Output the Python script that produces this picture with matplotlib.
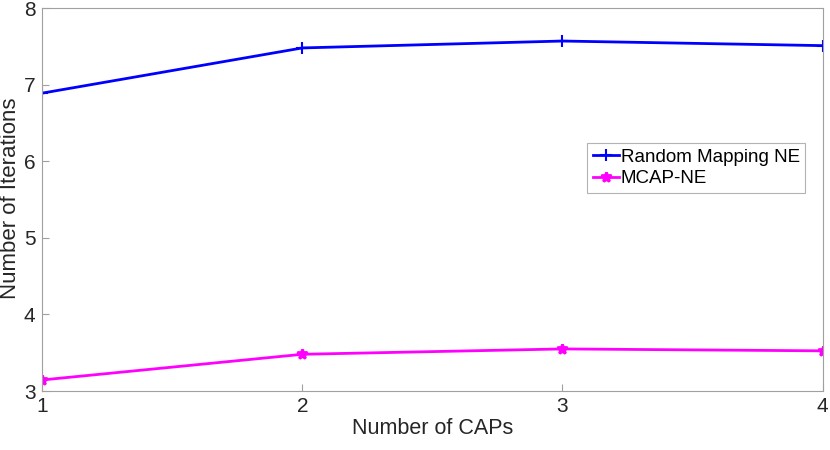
import matplotlib
matplotlib.use('Agg')
from matplotlib import pyplot as plt

# Dados
caps = [1, 2, 3, 4]
random_mapping = [6.89, 7.48, 7.57, 7.51]
mcap_ne = [3.145, 3.48, 3.55, 3.525]

plt.rcParams['font.family'] = ['Liberation Sans', 'DejaVu Sans']

fig = plt.figure(figsize=(8.3, 4.5), dpi=100)
ax = fig.add_axes([0.051, 0.131, 0.940, 0.851])

ax.plot(caps, random_mapping, color='#0000ff', lw=2, marker='+', ms=8, mew=1.5, label='Random Mapping NE')
ax.plot(caps, mcap_ne, color='#ff00ff', lw=2, marker='*', ms=7, mew=2, label='MCAP-NE')

ax.set_xlim(1, 4)
ax.set_ylim(3, 8)
ax.set_xticks(caps)
ax.set_yticks([3, 4, 5, 6, 7, 8])
ax.tick_params(direction='in', length=5, width=0.8, color='#a0a0a0', labelsize=15, labelcolor='#262626', pad=4)
ax.tick_params(axis='y', pad=5)
for s in ax.spines.values():
    s.set_color('#a0a0a0')
    s.set_linewidth(0.8)

ax.set_xlabel('Number of CAPs', fontsize=15.5, color='#262626', labelpad=2)
ax.set_ylabel('Number of Iterations', fontsize=16, color='#262626')
ax.yaxis.set_label_coords(-0.027, 0.504)

leg = ax.legend(loc='upper left', bbox_to_anchor=(0.698, 0.648), fontsize=13.5, frameon=True, fancybox=False,
                handlelength=1.4, handletextpad=0.1, borderpad=0.3, labelspacing=0.25, borderaxespad=0)
leg.get_frame().set_edgecolor('#a0a0a0')
leg.get_frame().set_linewidth(0.8)

plt.savefig('out.png', dpi=100)
